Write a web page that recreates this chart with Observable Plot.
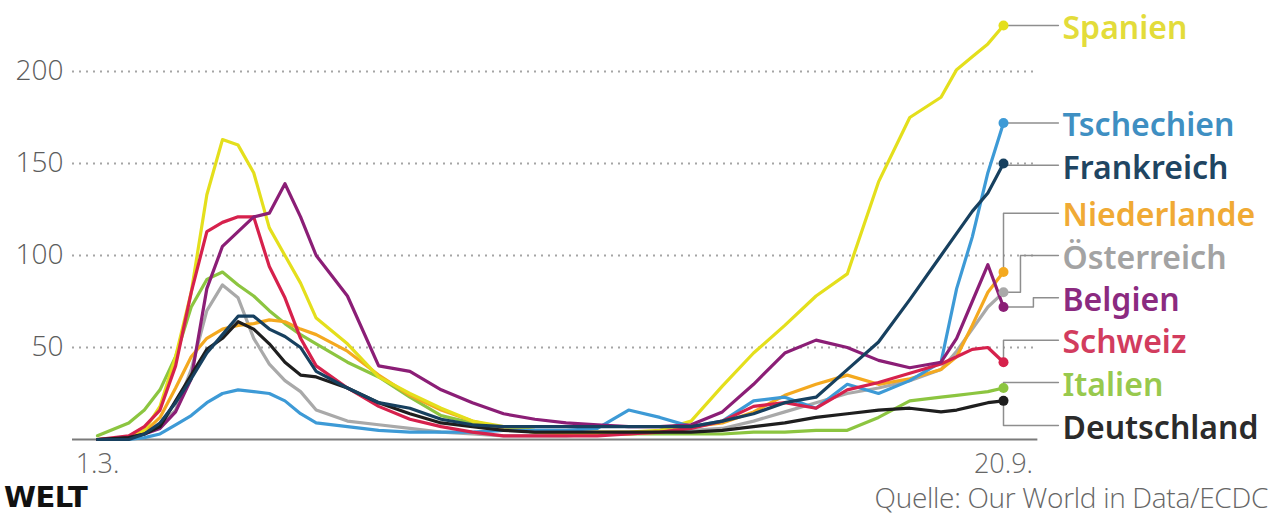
<!DOCTYPE html>
<html>
<head>
<meta charset="utf-8">
<script src="https://cdn.jsdelivr.net/npm/d3@7"></script>
<script src="https://cdn.jsdelivr.net/npm/@observablehq/plot@0.6"></script>
<style>
  html, body { margin: 0; padding: 0; background: #fff; }
  body { width: 1274px; height: 525px; overflow: hidden; }
  #footer { position: relative; width: 1274px; height: 45px; }
  #welt { position: absolute; left: 4px; top: 0px; font-family: "DejaVu Sans", sans-serif; font-weight: bold; font-size: 29px; color: #111; letter-spacing: -0.5px; }
  #src { position: absolute; right: 6px; top: -2px; font-family: "Open Sans", sans-serif; font-weight: 300; font-size: 28px; color: #666; letter-spacing: -0.3px; }
</style>
</head>
<body>
<div id="chart"></div>
<div id="footer"><span id="welt">WELT</span><span id="src">Quelle: Our World in Data/ECDC</span></div>
<script>
// Day offsets from 1 March 2020 (day 203 = 20 September)
const days = [0,7,10.5,14,17.5,21,24.5,28,31.5,35,38.5,42,45.5,49,56,63,70,77,84,91,98,105,112,119,126,133,140,147,154,161,168,175,182,189,192.5,196,199.5,203];

const spanien      = [0,1,5,18,45,80,133,163,160,145,115,100,85,66,52,34,25,17,10,7,5,4,4,4,5,10,29,47,62,78,90,140,175,186,201,208,215,225];
const tschechien   = [0,0,1,3,8,13,20,25,27,26,25,21,14,9,7,5,4,4,4,5,5,5,6,16,12,7,10,21,23,17,30,25,32,42,82,110,145,172];
const frankreich   = [0,0,3,9,20,33,47,57,67,67,60,56,50,37,28,20,17,11,8,7,7,7,7,7,7,7,10,14,20,23,38,53,76,100,112,124,134,150];
const niederlande  = [0,1,4,12,28,45,55,60,62,63,65,64,60,57,48,35,24,16,10,6,4,3,3,3,4,7,9,15,24,30,35,30,33,38,45,62,80,91];
const oesterreich  = [0,1,3,8,16,38,70,84,77,55,41,32,26,16,10,8,6,4,3,2,2,2,3,3,4,5,6,10,15,20,25,28,32,38,48,60,72,80];
const belgien      = [0,1,3,6,15,33,82,105,113,121,123,139,121,100,78,40,37,27,20,14,11,9,8,7,7,8,15,30,47,54,50,43,39,42,55,75,95,72];
const schweiz      = [0,2,7,16,40,80,113,118,121,121,94,77,55,40,28,18,11,7,4,2,2,2,2,3,4,6,10,18,20,17,27,31,36,41,45,49,50,42];
const italien      = [2,9,16,27,45,72,87,91,84,78,70,63,57,52,42,34,23,13,9,6,4,3,3,3,3,3,3,4,4,5,5,12,21,23,24,25,26,28];
const deutschland  = [0,1,3,7,21,35,49,55,64,60,52,42,35,34,28,20,14,9,7,5,4,4,4,4,4,4,5,7,9,12,14,16,17,15,16,18,20,21];

const countries = ["Italien","Österreich","Niederlande","Spanien","Tschechien","Schweiz","Belgien","Deutschland","Frankreich"];
const seriesValues = {Italien: italien, "Österreich": oesterreich, Niederlande: niederlande, Spanien: spanien, Tschechien: tschechien, Schweiz: schweiz, Belgien: belgien, Deutschland: deutschland, Frankreich: frankreich};
const lineColors  = {Spanien:"#e4df1c", Tschechien:"#3d9ad6", Frankreich:"#17405f", Niederlande:"#f4a91f", "Österreich":"#a9a9a9", Belgien:"#8b1e76", Schweiz:"#d6214c", Italien:"#8cc540", Deutschland:"#1e1e1e"};
const labelColors = {Spanien:"#e3dc3a", Tschechien:"#3f8fc2", Frankreich:"#1f4562", Niederlande:"#f0aa35", "Österreich":"#a3a3a3", Belgien:"#8b2a80", Schweiz:"#d23c5e", Italien:"#98c94e", Deutschland:"#2b2b2b"};
// label heights (in chart units) for the right-hand labels
const labelValues = {Spanien:225, Tschechien:172, Frankreich:149, Niederlande:123, "Österreich":100, Belgien:77, Schweiz:54, Italien:31, Deutschland:7.6};
const labelOrder = ["Spanien","Tschechien","Frankreich","Niederlande","Österreich","Belgien","Schweiz","Italien","Deutschland"];

const yTicks = [50,100,150,200];
const xTickDays = [0,203];
const xTickLabels = ["1.3.","20.9."];

const DAY = 864e5;
const t0 = Date.UTC(2020,2,1);
const toDate = d => new Date(t0 + d*DAY);
const lastDay = days[days.length-1];

const rows = [];
for (const c of countries) {
  seriesValues[c].forEach((v,i) => rows.push({country:c, date:toDate(days[i]), value:v}));
}
const ends = labelOrder.map(c => ({country:c, date:toDate(lastDay), value:seriesValues[c][seriesValues[c].length-1], label:labelValues[c]}));

// leader lines: from end dot, optional elbow, to the label
const elbow = {"Österreich":3.8, Belgien:6.7};
const leaderEnd = lastDay + 12.3;
const leaders = [];
for (const e of ends) {
  const ex = lastDay + (elbow[e.country] || 0);
  leaders.push({country:e.country, date:toDate(lastDay), value:e.value});
  leaders.push({country:e.country, date:toDate(ex), value:e.value});
  leaders.push({country:e.country, date:toDate(ex), value:e.label});
  leaders.push({country:e.country, date:toDate(leaderEnd), value:e.label});
}

const chart = Plot.plot({
  width: 1274,
  height: 480,
  marginLeft: 97,
  marginRight: 271,
  marginTop: 15.8,
  marginBottom: 41,
  x: {type:"utc", domain:[toDate(0), toDate(lastDay)], axis:null},
  y: {domain:[0,230], axis:null},
  marks: [
    Plot.ruleY(yTicks, {x1: toDate(-5.6), x2: toDate(lastDay+7.7), stroke:"#a5a5a5", strokeWidth:2, strokeDasharray:"2,5"}),
    Plot.ruleY([0], {x1: toDate(-5.6), x2: toDate(lastDay+7.7), stroke:"#7a7a7a", strokeWidth:2}),
    Plot.text(yTicks, {x: toDate(0), y: d => d, text: d => String(d), dx:-34, textAnchor:"end", fontSize:28, fontWeight:300, fontFamily:"Open Sans", fill:"#5c5c5c"}),
    Plot.text(xTickDays, {x: d => toDate(d), y: () => 0, text: (d,i) => xTickLabels[i], dy:25, textAnchor:"middle", fontSize:27, fontWeight:300, fontFamily:"Open Sans", fill:"#666"}),
    Plot.line(leaders, {x:"date", y:"value", z:"country", stroke:"#8e8e8e", strokeWidth:1.5}),
    Plot.line(rows, {x:"date", y:"value", z:"country", stroke: d => lineColors[d.country], strokeWidth:3.2, strokeLinejoin:"round", strokeLinecap:"round"}),
    Plot.dot(ends, {x:"date", y:"value", r:5, fill: d => lineColors[d.country], stroke:"none"}),
    Plot.text(ends, {x:"date", y:"label", text:"country", dx:59, dy:3, textAnchor:"start", fontSize:32, fontWeight:600, fontFamily:"Noto Sans", fill: d => labelColors[d.country]})
  ]
});
document.getElementById("chart").appendChild(chart);
</script>
</body>
</html>
